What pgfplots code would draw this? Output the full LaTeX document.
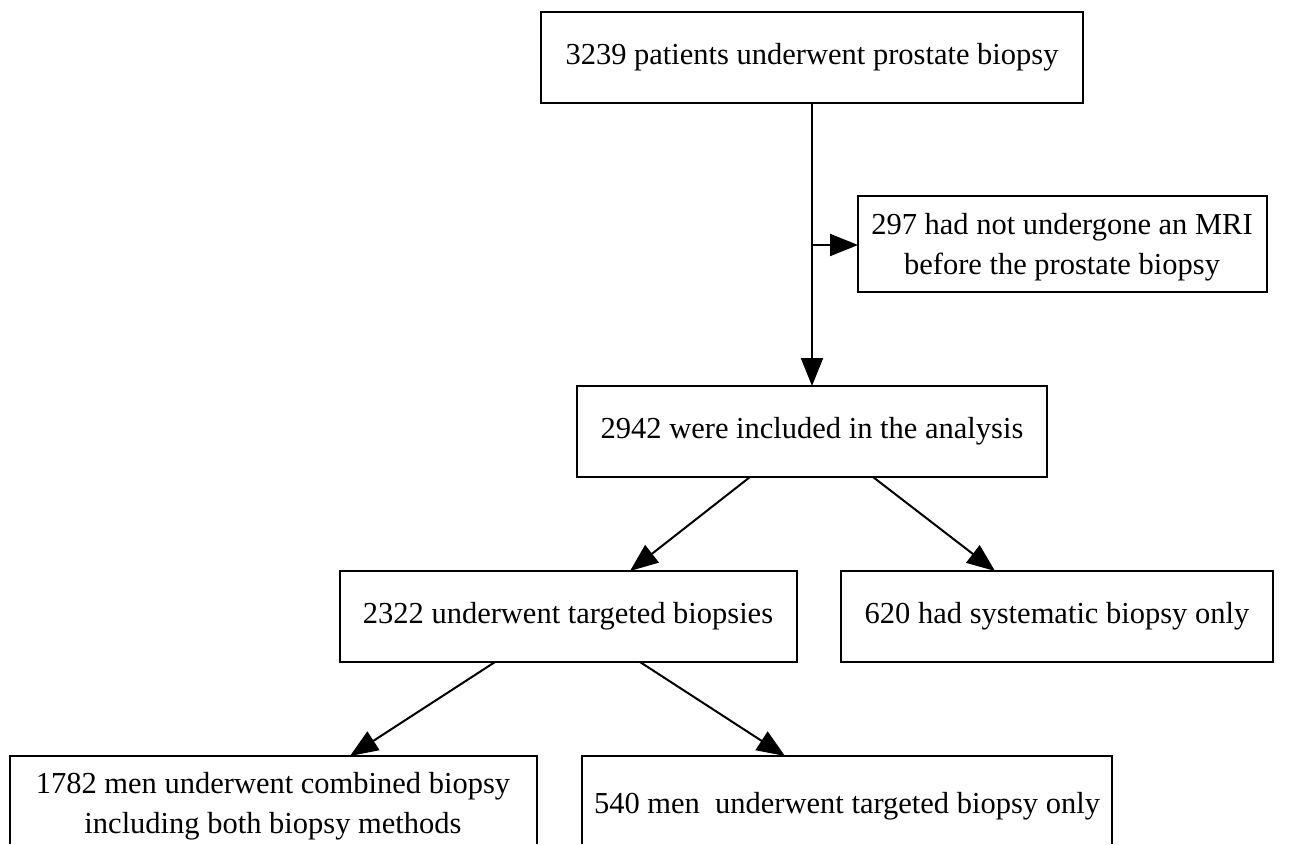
\documentclass[border=0pt]{standalone}
\usepackage{fontspec}
\setmainfont{Liberation Serif}
\usepackage{pgfplots}
\pgfplotsset{compat=1.18}
\usetikzlibrary{arrows.meta}
\begin{document}
\begin{tikzpicture}
\begin{axis}[hide axis, scale only axis, width=1301pt, height=845pt,
  xmin=0, xmax=1301, ymin=0, ymax=845, y dir=reverse, clip=false]
\path (axis cs:0,0) rectangle (axis cs:1301,845);
\tikzset{bx/.style={line width=2pt, black},
  ar/.style={line width=2pt, black, -{Triangle[length=28pt,width=22pt]}},
  tx/.style={align=center, inner sep=0pt, font=\fontsize{30.5}{39.5}\selectfont}}
% boxes
\draw[bx] (axis cs:541,12) rectangle (axis cs:1083,103);
\draw[bx] (axis cs:858,196) rectangle (axis cs:1267,292);
\draw[bx] (axis cs:577,386) rectangle (axis cs:1047,477);
\draw[bx] (axis cs:340,571) rectangle (axis cs:797,662);
\draw[bx] (axis cs:841,571) rectangle (axis cs:1273,662);
\draw[bx] (axis cs:10,844) -- (axis cs:10,756) -- (axis cs:537,756) -- (axis cs:537,844);
\draw[bx] (axis cs:582,844) -- (axis cs:582,756) -- (axis cs:1112,756) -- (axis cs:1112,844);
% arrows
\draw[ar] (axis cs:812,103) -- (axis cs:812,386);
\draw[ar] (axis cs:812,245) -- (axis cs:858,245);
\draw[ar] (axis cs:750,477) -- (axis cs:630,571);
\draw[ar] (axis cs:873,477) -- (axis cs:995,571);
\draw[ar] (axis cs:495,662) -- (axis cs:350,756);
\draw[ar] (axis cs:640,662) -- (axis cs:785,756);
% texts
\node[tx] at (axis cs:812,57) {3239 patients underwent prostate biopsy};
\node[tx] at (axis cs:1062,247) {297 had not undergone an MRI\\before the prostate biopsy};
\node[tx] at (axis cs:812,431) {2942 were included in the analysis};
\node[tx] at (axis cs:568,616) {2322 underwent targeted biopsies};
\node[tx] at (axis cs:1057,616) {620 had systematic biopsy only};
\node[tx] at (axis cs:273,806) {1782 men underwent combined biopsy\\including both biopsy methods};
\node[tx] at (axis cs:847,806) {540 men\ \ underwent targeted biopsy only};
\end{axis}
\end{tikzpicture}
\end{document}
